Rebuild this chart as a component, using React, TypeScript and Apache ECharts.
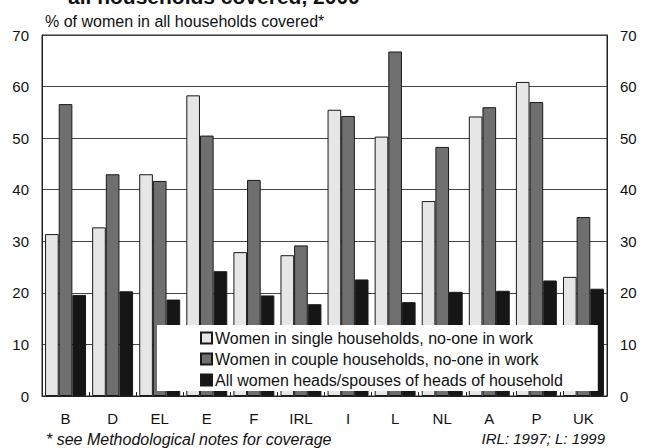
import React, { useEffect, useRef } from "react";
import * as echarts from "echarts";

const categories = ["B", "D", "EL", "E", "F", "IRL", "I", "L", "NL", "A", "P", "UK"];
const singleNoWork = [31.4, 32.7, 43.0, 58.3, 27.9, 27.3, 55.5, 50.3, 37.8, 54.2, 60.9, 23.1];
const coupleNoWork = [56.6, 43.0, 41.7, 50.5, 41.9, 29.2, 54.3, 66.8, 48.3, 56.0, 57.0, 34.7];
const allHeads = [19.6, 20.3, 18.7, 24.2, 19.5, 17.8, 22.6, 18.2, 20.2, 20.4, 22.4, 20.8];
const seriesNames = [
  "Women in single households, no-one in work",
  "Women in couple households, no-one in work",
  "All women heads/spouses of heads of household",
];
const titleText = "all households covered, 2000";
const axisTitle = "% of women in all households covered*";
const footLeft = "* see Methodological notes for coverage";
const footRight = "IRL: 1997; L: 1999";

const FONT = "Arial, 'Liberation Sans', sans-serif";

export default function App() {
  const ref = useRef<HTMLDivElement>(null);
  useEffect(() => {
    if (!ref.current) return;
    const chart = echarts.init(ref.current, null, { renderer: "svg" });
    const barStyle = (color: string) => ({
      color,
      borderColor: "#1a1a1a",
      borderWidth: 1,
    });
    const yLabel = { fontSize: 15, color: "#111", fontFamily: FONT, margin: 13 };
    chart.setOption({
      animation: false,
      backgroundColor: "#ffffff",
      textStyle: { fontFamily: FONT },
      grid: {
        left: 42,
        right: 40,
        top: 35,
        bottom: 52,
        show: true,
        borderColor: "#222",
        borderWidth: 1,
        backgroundColor: "#ffffff",
      },
      legend: {
        orient: "vertical",
        left: 157,
        top: 325,
        padding: [5, 35, 3, 43],
        itemWidth: 11,
        itemHeight: 11,
        itemGap: 5,
        backgroundColor: "#ffffff",
        icon: "rect",
        textStyle: { fontSize: 16, color: "#111", fontFamily: FONT, padding: [0, 0, 0, -2] },
        data: seriesNames,
      },
      xAxis: {
        type: "category",
        data: categories,
        axisLine: { show: true, lineStyle: { color: "#222", width: 1 } },
        axisTick: { show: true, inside: true, length: 4, lineStyle: { color: "#222" } },
        axisLabel: { fontSize: 15, color: "#111", fontFamily: FONT, margin: 15 },
      },
      yAxis: [
        {
          type: "value",
          min: 0,
          max: 70,
          interval: 10,
          position: "left",
          axisLine: { show: true, lineStyle: { color: "#222" } },
          axisTick: { show: false },
          splitLine: { show: true, lineStyle: { color: "#444", width: 1 } },
          axisLabel: yLabel,
        },
        {
          type: "value",
          min: 0,
          max: 70,
          interval: 10,
          position: "right",
          axisLine: { show: true, lineStyle: { color: "#222" } },
          axisTick: { show: false },
          splitLine: { show: false },
          axisLabel: yLabel,
        },
      ],
      series: [
        {
          name: seriesNames[0],
          type: "bar",
          data: singleNoWork,
          barGap: "0%",
          barCategoryGap: "13%",
          itemStyle: barStyle("#e6e6e6"),
        },
        {
          name: seriesNames[1],
          type: "bar",
          data: coupleNoWork,
          barGap: "0%",
          barCategoryGap: "13%",
          itemStyle: barStyle("#6f6f6f"),
        },
        {
          name: seriesNames[2],
          type: "bar",
          data: allHeads,
          barGap: "0%",
          barCategoryGap: "13%",
          itemStyle: barStyle("#161616"),
        },
      ],
      graphic: [
        {
          type: "text",
          left: 68,
          top: -14,
          style: { text: titleText, fill: "#111", font: `bold 21px ${FONT}` },
        },
        {
          type: "text",
          left: 45,
          top: 13,
          style: { text: axisTitle, fill: "#111", font: `16px ${FONT}` },
        },
        {
          type: "text",
          left: 46,
          top: 431,
          style: { text: footLeft, fill: "#111", font: `italic 16px ${FONT}` },
        },
        {
          type: "text",
          right: 42,
          top: 431,
          style: { text: footRight, fill: "#111", font: `italic 15px ${FONT}` },
        },
      ],
    });
    return () => chart.dispose();
  }, []);
  return (
    <div
      ref={ref}
      style={{ position: "fixed", left: 0, top: 0, width: 647, height: 448 }}
    />
  );
}
